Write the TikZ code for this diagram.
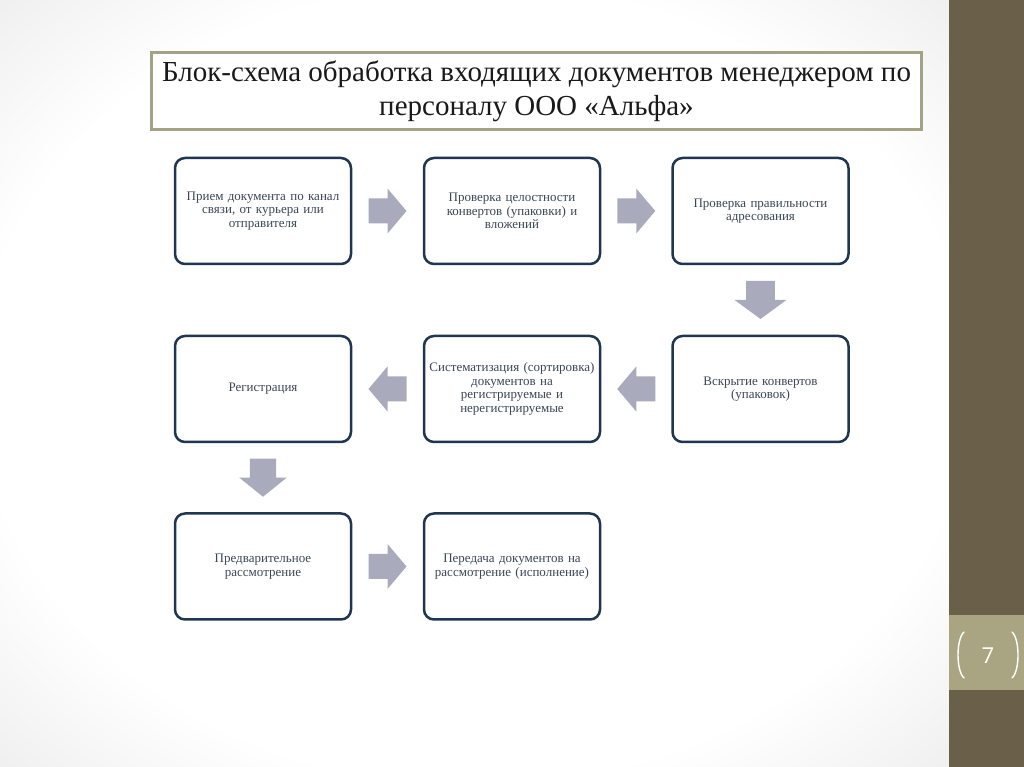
\documentclass[tikz,border=0pt]{standalone}
\usepackage{fontspec}
\setmainfont{Liberation Serif}
\newfontfamily\numfont{Open Sans}
\usetikzlibrary{calc}
\definecolor{barolive}{HTML}{6A6049}
\definecolor{numolive}{HTML}{A9A583}
\definecolor{frameolive}{HTML}{A3A283}
\definecolor{boxblue}{HTML}{1F3550}
\definecolor{boxtext}{HTML}{3B4656}
\definecolor{arrowgray}{HTML}{A9ABBD}
\definecolor{bgedge}{HTML}{DEDEDE}
\definecolor{bgcorner}{HTML}{D4D4D4}
\pgfdeclareradialshading{slidebg}{\pgfpoint{0bp}{0bp}}{color(0bp)=(white); color(26bp)=(white); color(46bp)=(bgedge); color(72bp)=(bgcorner)}
\tikzset{
  stepbox/.style={draw=boxblue, line width=2.5pt, rounded corners=10pt, fill=white,
    minimum width=176pt, minimum height=106pt, align=center, text width=166pt,
    text=boxtext, font=\fontsize{13}{13.5}\selectfont},
  pics/blockarrow/.style={code={
    \fill[arrowgray] (-19,-12.5) -- (0,-12.5) -- (0,-22.5) -- (19,0) -- (0,22.5)
      -- (0,12.5) -- (-19,12.5) -- cycle;}}
}
\begin{document}
\begin{tikzpicture}[x=1pt,y=1pt]
\useasboundingbox (0,0) rectangle (1024,767);
\shade[shading=slidebg] (0,0) rectangle (949,767);
\fill[barolive] (949,0) rectangle (1024,767);
\fill[numolive] (949,77) rectangle (1024,152);
\draw[white, line width=1.4pt, line cap=round] (964,135) .. controls (956,128) and (956,96) .. (964,89);
\draw[white, line width=1.4pt, line cap=round] (1012,135) .. controls (1020,128) and (1020,96) .. (1012,89);
\node[text=white, font=\numfont\fontsize{22}{24}\selectfont] (pagenum) at (988,111) {7};
\node[draw=frameolive, line width=3pt, fill=white, minimum width=770pt, minimum height=77pt,
  align=center, font=\fontsize{29}{34}\selectfont, text=black!90] (title) at (536.5,675.5)
  {Блок-схема обработка входящих документов менеджером по\\персоналу ООО «Альфа»};
\node[stepbox] (b1) at (263,556) {Прием документа по канал\\связи, от курьера или\\отправителя};
\node[stepbox] (b2) at (512,556) {Проверка целостности\\конвертов (упаковки) и\\вложений};
\node[stepbox] (b3) at (760.5,556) {Проверка правильности\\адресования};
\node[stepbox] (b4) at (760.5,378) {Вскрытие конвертов\\(упаковок)};
\node[stepbox] (b5) at (512,378) {Систематизация (сортировка)\\документов на\\регистрируемые и\\нерегистрируемые};
\node[stepbox] (b6) at (263,378) {Регистрация};
\node[stepbox] (b7) at (263,200.5) {Предварительное\\рассмотрение};
\node[stepbox] (b8) at (512,200.5) {Передача документов на\\рассмотрение (исполнение)};
\pic at ($(b1.east)!0.5!(b2.west)$) {blockarrow};
\pic at ($(b2.east)!0.5!(b3.west)$) {blockarrow};
\pic[rotate=-90, yscale=1.15] at ($(b3.south)!0.5!(b4.north)$) {blockarrow};
\pic[rotate=180] at ($(b4.west)!0.5!(b5.east)$) {blockarrow};
\pic[rotate=180] at ($(b5.west)!0.5!(b6.east)$) {blockarrow};
\pic[rotate=-90, yscale=1.05] at ($(b6.south)!0.5!(b7.north)$) {blockarrow};
\pic at ($(b7.east)!0.5!(b8.west)$) {blockarrow};
\end{tikzpicture}
\end{document}
